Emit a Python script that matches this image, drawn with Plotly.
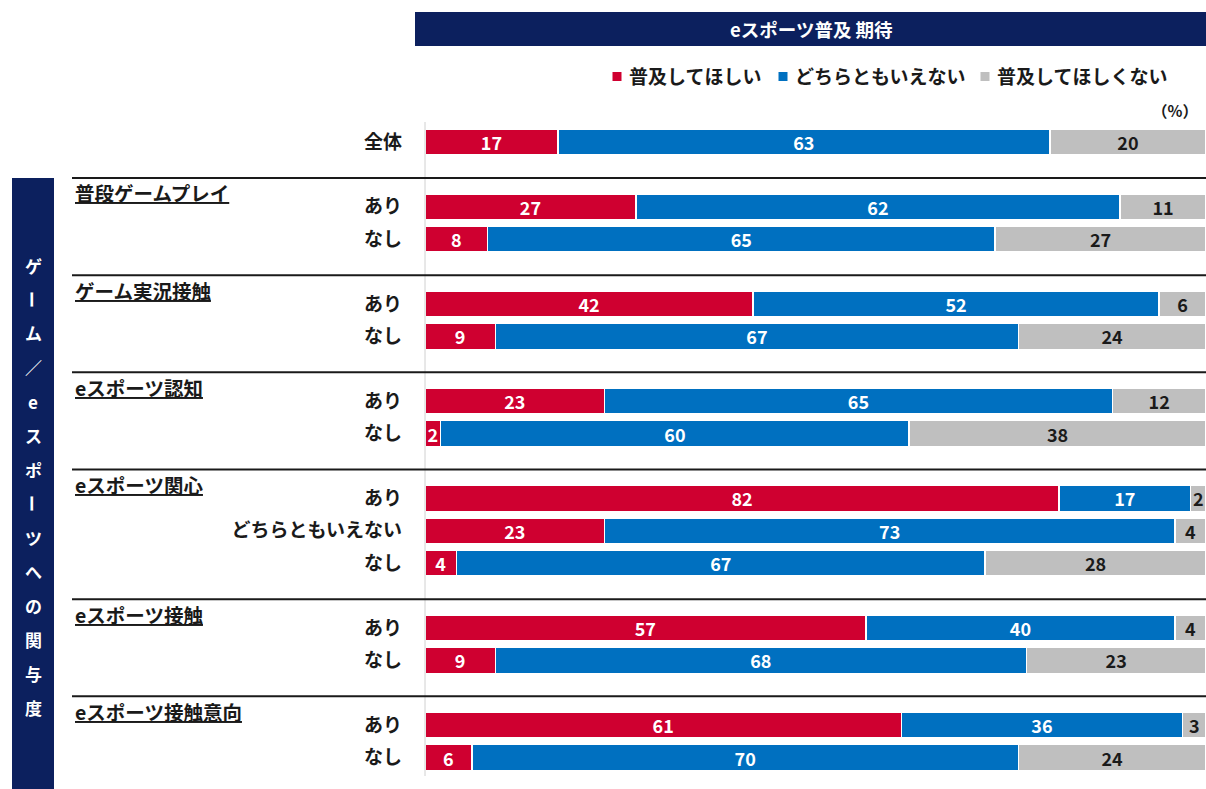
import plotly.graph_objects as go

# ---------------- data ----------------
series_names = ["普及してほしい", "どちらともいえない", "普及してほしくない"]
series_colors = ["#cf0030", "#0070c0", "#bfbfbf"]
text_colors = ["#ffffff", "#ffffff", "#1a1a1a"]

group_names = ["全体", "普段ゲームプレイ", "ゲーム実況接触", "eスポーツ認知",
               "eスポーツ関心", "eスポーツ接触", "eスポーツ接触意向"]
row_groups = [0, 1, 1, 2, 2, 3, 3, 4, 4, 4, 5, 5, 6, 6]
row_labels = ["全体", "あり", "なし", "あり", "なし", "あり", "なし",
              "あり", "どちらともいえない", "なし", "あり", "なし", "あり", "なし"]

want = [17, 27, 8, 42, 9, 23, 2, 82, 23, 4, 57, 9, 61, 6]
neutral = [63, 62, 65, 52, 67, 65, 60, 17, 73, 67, 40, 68, 36, 70]
dont_want = [20, 11, 27, 6, 24, 12, 38, 2, 4, 28, 4, 23, 3, 24]
series_values = [want, neutral, dont_want]

header_title = "eスポーツ普及 期待"
side_title = "ゲーム／eスポーツへの関与度"
unit_label = "（%）"

# ---------------- layout helpers ----------------
W, H = 1206, 789
L = 425
FONT = "Noto Sans CJK JP"
NAVY = "#0c205e"
TXT = "#1a1a1a"
LBL_SIZE = 19
GRP_SIZE = 19.5

# slot positions: one blank slot before every new group
slots = []
s = 0
prev = None
group_first_slot = {}
for g in row_groups:
    if prev is not None and g != prev:
        s += 1
    if g not in group_first_slot:
        group_first_slot[g] = s
    slots.append(s)
    s += 1
    prev = g

SLOT_PX = 32.4
FIRST_PX = 142
y_top = -FIRST_PX / SLOT_PX
y_bot = (H - FIRST_PX) / SLOT_PX


def px_x(p):
    return (p - L) / (W - L)


def px_y(p):
    return 1 - p / H


fig = go.Figure()
for name, vals, col, tcol in zip(series_names, series_values, series_colors, text_colors):
    fig.add_trace(go.Bar(
        name=name, orientation="h", y=slots, x=vals, width=0.8,
        marker=dict(color=col, line=dict(color="#ffffff", width=1.5)),
        text=vals, texttemplate="%{text}", textposition="inside",
        insidetextanchor="middle", textangle=0, constraintext="none",
        textfont=dict(family=FONT, size=18, color=tcol, weight="bold"),
        showlegend=False, hoverinfo="skip",
    ))

shapes = []
annotations = []

# header band
shapes.append(dict(type="rect", xref="paper", yref="paper",
                   x0=px_x(415), x1=1, y0=px_y(46), y1=px_y(12),
                   fillcolor=NAVY, line=dict(width=0), layer="below"))
annotations.append(dict(xref="paper", yref="paper", x=px_x(811), y=px_y(29),
                        xanchor="center", yanchor="middle",
                        text=header_title, showarrow=False,
                        font=dict(family=FONT, size=18.5, color="white", weight="bold")))

# manual legend
legend_pos = [(617, 627), (783, 793), (985, 995)]
for (sqx, tx), name, col in zip(legend_pos, series_names, series_colors):
    shapes.append(dict(type="rect", xref="paper", yref="paper",
                       x0=px_x(sqx - 4.5), x1=px_x(sqx + 4.5),
                       y0=px_y(81), y1=px_y(72), fillcolor=col, line=dict(width=0)))
    annotations.append(dict(xref="paper", yref="paper", x=px_x(tx), y=px_y(76),
                            xanchor="left", yanchor="middle", text=name, showarrow=False,
                            font=dict(family=FONT, size=LBL_SIZE, color=TXT, weight="bold")))

annotations.append(dict(xref="paper", yref="paper", x=px_x(1200), y=px_y(110),
                        xanchor="right", yanchor="middle", text=unit_label, showarrow=False,
                        font=dict(family=FONT, size=15.5, color=TXT, weight="bold")))

# axis baseline
shapes.append(dict(type="line", xref="paper", yref="paper", x0=0, x1=0,
                   y0=px_y(122), y1=px_y(776), line=dict(color="#d0d0d0", width=1)))

# group separators and group labels
for gi, gname in enumerate(group_names):
    if gi == 0:
        continue
    blank = group_first_slot[gi] - 1
    shapes.append(dict(type="line", xref="paper", yref="y",
                       x0=px_x(72), x1=1, y0=blank + 0.11, y1=blank + 0.11,
                       line=dict(color="#1a1a1a", width=2)))
    annotations.append(dict(xref="paper", yref="y", x=px_x(73), y=blank + 0.57,
                            xanchor="left", yanchor="middle", text=gname, showarrow=False,
                            font=dict(family=FONT, size=GRP_SIZE, color=TXT,
                                      weight="bold", lineposition="under")))

# left vertical title box
shapes.append(dict(type="rect", xref="paper", yref="paper",
                   x0=px_x(12), x1=px_x(54), y0=0, y1=px_y(178),
                   fillcolor=NAVY, line=dict(width=0)))
for i, ch in enumerate(side_title):
    annotations.append(dict(xref="paper", yref="paper", x=px_x(33), y=px_y(265 + 34 * i),
                            xanchor="center", yanchor="middle",
                            text=ch, showarrow=False,
                            textangle=90 if ch == "ー" else 0,
                            font=dict(family=FONT, size=17, color="white", weight="bold")))

fig.update_layout(
    width=W, height=H,
    margin=dict(l=L, r=0, t=0, b=0),
    barmode="stack", barnorm="percent",
    plot_bgcolor="white", paper_bgcolor="white",
    uniformtext=dict(minsize=18, mode="show"),
    shapes=shapes, annotations=annotations,
    xaxis=dict(range=[0, 100], showgrid=False, zeroline=False, showticklabels=False,
               showline=False, fixedrange=True),
    yaxis=dict(range=[y_bot, y_top], tickvals=slots, ticktext=row_labels,
               showgrid=False, zeroline=False, showline=False, ticks="",
               ticklabelstandoff=22, automargin=False, fixedrange=True,
               tickfont=dict(family=FONT, size=LBL_SIZE, color=TXT, weight="bold")),
    font=dict(family=FONT),
)

fig.write_html("out.html")
